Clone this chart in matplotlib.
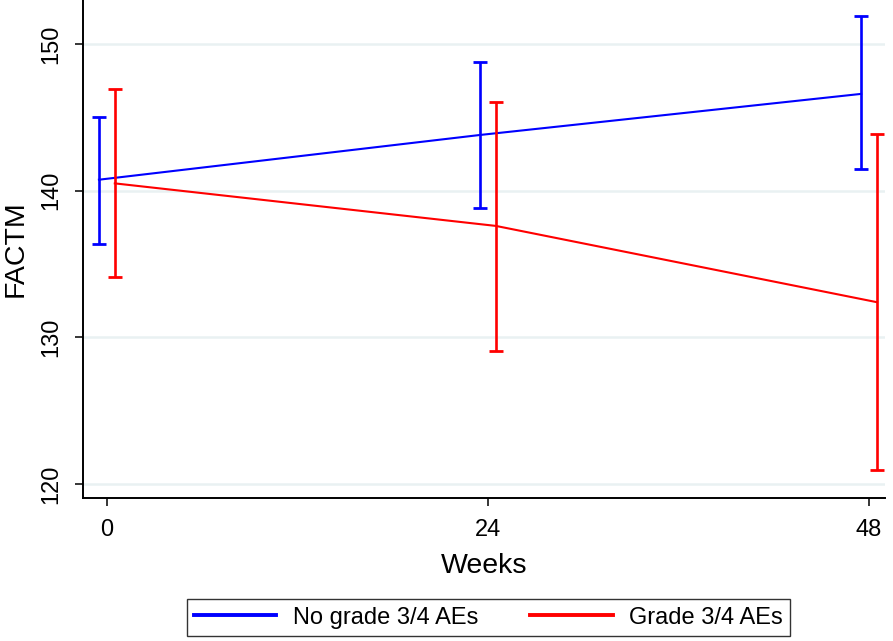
import matplotlib.pyplot as plt

plt.rcParams['font.family'] = ['Liberation Sans', 'DejaVu Sans']

# Datos
weeks = [0, 24, 48]
no_grade_mean = [140.75, 143.8, 146.6]
no_grade_low = [136.4, 138.85, 141.5]
no_grade_high = [145.05, 148.8, 151.9]
grade_mean = [140.5, 137.6, 132.4]
grade_low = [134.15, 129.05, 120.95]
grade_high = [146.9, 146.05, 143.85]
labels = ["No grade 3/4 AEs", "Grade 3/4 AEs"]
offset = 0.5

fig = plt.figure(figsize=(8.93, 6.41), dpi=100)
ax = fig.add_axes([0.093, 0.223, 0.898, 0.777])

series = [(no_grade_mean, no_grade_low, no_grade_high, "#0000ff", -offset),
          (grade_mean, grade_low, grade_high, "#ff0000", offset)]
handles = []
for (mean, low, high, color, dx), label in zip(series, labels):
    x = [w + dx for w in weeks]
    err = [[m - lo for m, lo in zip(mean, low)],
           [hi - m for m, hi in zip(mean, high)]]
    ax.errorbar(x, mean, yerr=err, fmt="none", ecolor=color,
                elinewidth=1.9, capsize=5, capthick=2.0, zorder=3)
    line, = ax.plot(x, mean, color=color, lw=1.5, zorder=3, label=label)
    handles.append(line)

ax.set_xlim(-1.5, 49)
ax.set_ylim(119.05, 153)
ax.set_xticks(weeks)
ax.set_yticks([120, 130, 140, 150])
ax.grid(axis="y", color="#e9f1f2", lw=1.8)
ax.set_axisbelow(True)
for side in ["top", "right"]:
    ax.spines[side].set_visible(False)
for side in ["left", "bottom"]:
    ax.spines[side].set_linewidth(1.4)
ax.tick_params(direction="out", length=6, width=1.1, labelsize=17, pad=9)
plt.setp(ax.get_yticklabels(), rotation=90, va="center")
ax.set_xlabel("Weeks", fontsize=20.5, labelpad=9)
ax.set_ylabel("FACTM", fontsize=20.5, labelpad=8)

leg = fig.legend(handles=handles, labels=labels, loc="center",
                 bbox_to_anchor=(0.547, 0.0366), ncol=2, fontsize=17,
                 frameon=True, fancybox=False, edgecolor="black",
                 handlelength=3.5, handletextpad=0.7, columnspacing=2.2,
                 borderpad=0.3, borderaxespad=0)
leg.get_frame().set_linewidth(1.0)
for h in leg.get_lines():
    h.set_linewidth(2.8)

plt.savefig("out.png", dpi=100)
